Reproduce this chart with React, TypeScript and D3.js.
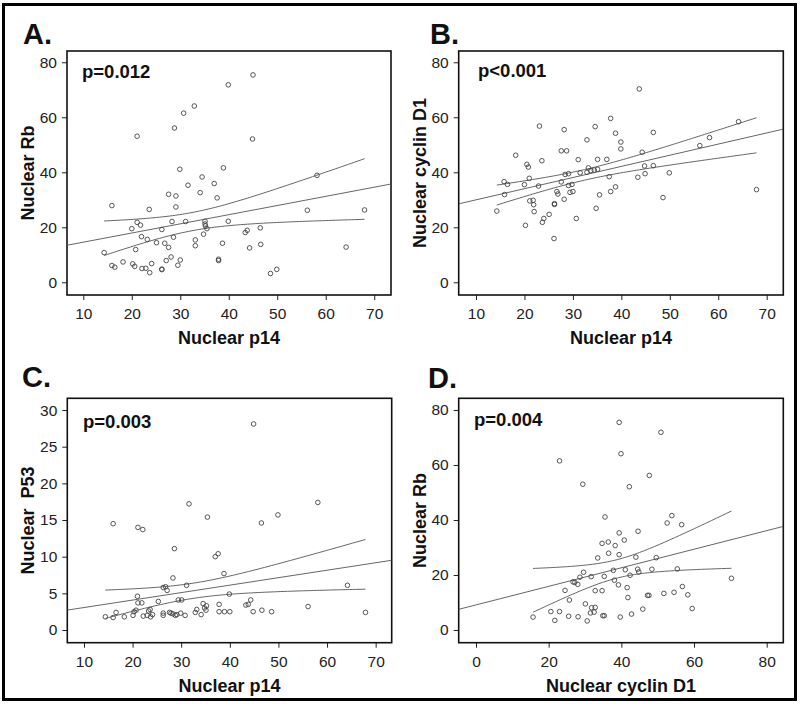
import React, { useEffect, useRef } from "react"
import * as d3 from "d3"

type Pt = [number, number]

// A: nuclear p14 vs nuclear Rb
const p14VsRb: Pt[] = [
  [14.3, 10.8], [15.9, 27.9], [15.9, 6.1], [16.5, 5.5], [18.2, 7.4], [20.0, 19.5], [20.2, 6.7],
  [20.6, 5.8], [20.8, 11.9], [21.1, 21.8], [21.1, 53.1], [21.8, 20.8], [22.0, 16.6], [22.1, 5.0],
  [22.9, 5.1], [23.2, 15.6], [23.6, 26.5], [23.7, 3.5], [24.1, 6.8], [25.1, 14.4], [26.2, 19.2],
  [26.2, 4.8], [26.2, 4.6], [26.8, 14.2], [27.1, 7.9], [27.6, 32.0], [27.6, 12.7], [28.1, 9.2],
  [28.3, 22.1], [28.6, 16.4], [28.8, 56.1], [29.1, 31.4], [29.1, 27.4], [29.5, 6.2], [29.9, 41.1],
  [30.0, 8.1], [30.7, 61.5], [31.1, 22.1], [31.6, 35.3], [32.9, 64.1], [33.1, 15.4], [33.1, 13.3],
  [34.1, 32.6], [34.5, 38.3], [34.8, 17.5], [35.1, 22.2], [35.1, 21.2], [35.2, 20.5], [35.5, 19.5],
  [37.0, 35.9], [37.6, 30.7], [37.9, 8.4], [37.9, 7.9], [38.7, 14.2], [38.9, 41.6], [39.9, 71.8],
  [39.9, 22.2], [43.4, 18.1], [43.8, 18.9], [44.3, 12.5], [44.9, 52.1], [45.0, 75.4], [46.5, 19.8],
  [46.6, 13.8], [48.6, 3.2], [49.9, 4.7], [56.2, 26.2], [58.2, 38.9], [64.2, 12.8], [68.0, 26.3],
]

// B: nuclear p14 vs nuclear cyclin D1
const p14VsCyclin: Pt[] = [
  [14.3, 25.9], [15.8, 36.6], [15.9, 31.9], [16.5, 35.6], [18.2, 46.2], [20.0, 35.5], [20.2, 20.7],
  [20.5, 42.9], [20.8, 41.9], [21.0, 37.8], [21.1, 29.6], [21.8, 29.8], [21.9, 28.2], [22.0, 25.7],
  [22.9, 35.0], [23.1, 56.8], [23.6, 44.2], [23.7, 21.8], [24.0, 23.2], [25.1, 24.7], [26.1, 15.9],
  [26.2, 28.6], [26.2, 28.3], [26.7, 33.0], [26.9, 32.1], [27.6, 36.5], [27.6, 47.8], [28.2, 30.2],
  [28.2, 55.5], [28.4, 39.2], [28.7, 47.8], [29.1, 39.5], [29.1, 35.2], [29.4, 32.7], [29.8, 35.6],
  [30.0, 33.0], [30.7, 23.2], [31.1, 44.6], [31.5, 39.8], [32.9, 51.8], [32.9, 40.0], [33.2, 41.6],
  [33.7, 40.6], [34.4, 40.8], [34.6, 56.6], [34.8, 26.9], [35.1, 44.7], [35.1, 41.1], [35.5, 31.8],
  [37.0, 44.7], [37.5, 38.4], [37.8, 59.6], [37.8, 33.0], [38.8, 54.2], [38.8, 34.7], [39.9, 51.0],
  [39.9, 48.5], [43.4, 38.2], [43.7, 70.3], [44.3, 47.3], [44.8, 42.3], [44.9, 39.5], [46.6, 54.5],
  [46.6, 42.4], [48.6, 30.8], [49.9, 39.8], [56.2, 49.7], [58.2, 52.6], [64.2, 58.4], [67.9, 33.7],
]

// C: nuclear p14 vs nuclear P53
const p14VsP53: Pt[] = [
  [14.4, 1.8], [16.0, 14.5], [16.0, 1.7], [16.6, 2.4], [18.3, 1.8], [20.1, 2.0], [20.3, 2.5],
  [20.7, 2.7], [21.0, 4.6], [21.1, 14.0], [21.1, 3.7], [21.9, 3.7], [22.1, 13.7], [22.2, 1.9],
  [23.0, 2.0], [23.3, 2.6], [23.6, 2.8], [23.7, 1.8], [24.1, 2.1], [25.3, 3.9], [26.3, 5.8],
  [26.3, 2.3], [26.3, 2.0], [26.8, 5.9], [27.1, 5.4], [27.6, 2.4], [27.9, 2.3], [28.3, 7.1],
  [28.3, 2.2], [28.6, 11.1], [28.8, 2.0], [29.1, 2.1], [29.4, 4.1], [29.9, 2.3], [30.1, 4.1],
  [30.8, 2.0], [31.1, 6.1], [31.6, 17.2], [32.9, 2.4], [33.2, 2.8], [34.1, 2.1], [34.5, 3.6],
  [34.8, 3.0], [35.1, 2.7], [35.2, 3.3], [35.4, 15.4], [37.0, 10.0], [37.6, 10.4], [37.8, 3.5],
  [37.8, 2.5], [38.8, 7.7], [38.9, 2.5], [39.9, 4.9], [40.0, 2.5], [43.3, 3.4], [43.8, 3.5],
  [44.3, 4.1], [44.8, 2.5], [44.9, 28.1], [46.5, 14.6], [46.6, 2.7], [48.6, 2.5], [49.9, 15.7],
  [56.1, 3.2], [58.1, 17.4], [64.2, 6.1], [67.9, 2.4],
]

// D: nuclear cyclin D1 vs nuclear Rb
const cyclinVsRb: Pt[] = [
  [15.7, 4.7], [20.6, 6.7], [21.7, 3.5], [23.0, 61.5], [23.0, 6.7], [24.5, 14.4], [25.5, 5.0],
  [25.7, 10.9], [26.7, 17.5], [27.2, 17.3], [28.0, 16.6], [28.1, 4.8], [28.6, 19.2], [29.4, 53.0],
  [29.6, 21.0], [30.1, 9.5], [30.6, 3.3], [31.5, 6.2], [31.7, 19.4], [31.8, 8.1], [32.5, 6.5],
  [32.8, 14.3], [32.8, 8.2], [33.5, 26.2], [34.7, 14.3], [34.7, 31.5], [34.9, 5.2], [35.3, 5.2],
  [35.3, 19.5], [35.5, 41.1], [36.4, 32.0], [36.5, 27.9], [37.8, 21.7], [38.1, 18.1], [38.3, 30.7],
  [39.2, 16.4], [39.4, 75.5], [39.4, 35.3], [39.4, 27.4], [39.7, 4.7], [39.9, 64.1], [40.8, 32.7],
  [41.1, 21.9], [41.6, 15.4], [41.8, 11.8], [42.2, 52.1], [42.4, 19.9], [42.8, 5.8], [44.0, 26.5],
  [44.5, 22.1], [44.6, 35.9], [44.8, 21.1], [45.9, 7.6], [47.2, 12.6], [47.6, 12.6], [47.7, 56.2],
  [48.4, 22.1], [49.6, 26.3], [50.9, 71.9], [51.7, 13.3], [52.6, 38.9], [53.9, 41.6], [54.5, 13.7],
  [55.4, 22.2], [56.6, 38.3], [56.8, 15.8], [58.3, 12.8], [59.5, 7.8], [70.3, 18.8],
]

const p14Ticks = [10, 20, 30, 40, 50, 60, 70]
const cyclinXTicks = [0, 20, 40, 60, 80]
const rbTicks = [0, 20, 40, 60, 80]
const cyclinTicks = [0, 20, 40, 60, 80]
const p53Ticks = [0, 5, 10, 15, 20, 25, 30]

const tags = ["A.", "B.", "C.", "D."]
const pValues = ["p=0.012", "p<0.001", "p=0.003", "p=0.004"]
const xTitles = ["Nuclear p14", "Nuclear p14", "Nuclear p14", "Nuclear cyclin D1"]
const yTitles = ["Nuclear Rb", "Nuclear cyclin D1", "Nuclear  P53", "Nuclear Rb"]

const panels = [
  { data: p14VsRb, xTicks: p14Ticks, yTicks: rbTicks, xDom: [6.64, 73.46], yDom: [-4.62, 84.1],
    box: [67, 51, 391, 295], tagX: 23, tagY: 44, pX: 82, pY: 78 },
  { data: p14VsCyclin, xTicks: p14Ticks, yTicks: cyclinTicks, xDom: [6.43, 73.43], yDom: [-4.62, 84.1],
    box: [458.7, 51, 783.3, 295], tagX: 430, tagY: 44, pX: 478, pY: 77 },
  { data: p14VsP53, xTicks: p14Ticks, yTicks: p53Ticks, xDom: [6.57, 73.3], yDom: [-1.73, 31.6],
    box: [67.3, 398.3, 391.7, 642.7], tagX: 22, tagY: 387, pX: 83, pY: 428 },
  { data: cyclinVsRb, xTicks: cyclinXTicks, yTicks: rbTicks, xDom: [-4.76, 84.57], yDom: [-4.62, 84.25],
    box: [458.7, 398.3, 783.3, 642.7], tagX: 428, tagY: 388, pX: 474, pY: 426 },
]

// least squares fit with 90% band for the mean
function fit(data: Pt[]) {
  const n = data.length
  const mx = d3.mean(data, (d) => d[0])!
  const my = d3.mean(data, (d) => d[1])!
  const sxx = d3.sum(data, (d) => (d[0] - mx) ** 2)
  const sxy = d3.sum(data, (d) => (d[0] - mx) * (d[1] - my))
  const b = sxy / sxx
  const a = my - b * mx
  const s = Math.sqrt(d3.sum(data, (d) => (d[1] - a - b * d[0]) ** 2) / (n - 2))
  const t = 1.668
  const half = (x: number) => t * s * Math.sqrt(1 / n + (x - mx) ** 2 / sxx)
  return { a, b, half }
}

const font = "'Liberation Sans', Arial, Helvetica, sans-serif"

const App = () => {
  const ref = useRef<SVGSVGElement>(null)

  useEffect(() => {
    const svg = d3.select(ref.current)
    svg.selectAll("*").remove()

    svg.append("rect")
      .attr("width", 800).attr("height", 706).attr("fill", "#fff")

    svg.append("rect")
      .attr("x", 3.5).attr("y", 4.5).attr("width", 792).attr("height", 695)
      .attr("fill", "none").attr("stroke", "#000").attr("stroke-width", 3)

    panels.forEach((p, i) => {
      const [l, t, r, b] = p.box
      const x = d3.scaleLinear().domain(p.xDom).range([l, r])
      const y = d3.scaleLinear().domain(p.yDom).range([b, t])
      const g = svg.append("g")

      const clipId = `clip${i}`
      g.append("clipPath").attr("id", clipId)
        .append("rect").attr("x", l).attr("y", t).attr("width", r - l).attr("height", b - t)

      // axes
      const xa = g.append("g").attr("transform", `translate(0,${b})`)
        .call(d3.axisBottom(x).tickValues(p.xTicks).tickSize(5).tickPadding(8).tickSizeOuter(0))
      const ya = g.append("g").attr("transform", `translate(${l},0)`)
        .call(d3.axisLeft(y).tickValues(p.yTicks).tickSize(5).tickPadding(5).tickSizeOuter(0))
      ;[xa, ya].forEach((ax) => {
        ax.select(".domain").remove()
        ax.selectAll("line").attr("stroke", "#222")
        ax.selectAll("text").attr("fill", "#222").style("font-size", "15.5px").style("font-family", font)
      })

      // frame
      g.append("rect")
        .attr("x", l).attr("y", t).attr("width", r - l).attr("height", b - t)
        .attr("fill", "none").attr("stroke", "#111").attr("stroke-width", 1.6)

      // fit lines
      const f = fit(p.data)
      const [x0, x1] = d3.extent(p.data, (d) => d[0]) as [number, number]
      const xs = d3.range(x0, x1, (x1 - x0) / 80).concat([x1])
      const line = d3.line<number[]>().x((d) => x(d[0])).y((d) => y(d[1]))
      const lines = g.append("g").attr("clip-path", `url(#${clipId})`)
        .attr("fill", "none").attr("stroke", "#555").attr("stroke-width", 0.9)
      lines.append("path").attr("d", line(p.xDom.map((v) => [v, f.a + f.b * v])))
      lines.append("path").attr("d", line(xs.map((v) => [v, f.a + f.b * v + f.half(v)])))
      lines.append("path").attr("d", line(xs.map((v) => [v, f.a + f.b * v - f.half(v)])))

      // points
      g.append("g")
        .selectAll("circle")
        .data(p.data)
        .join("circle")
        .attr("cx", (d) => x(d[0]))
        .attr("cy", (d) => y(d[1]))
        .attr("r", 2.3)
        .attr("fill", "none")
        .attr("stroke", "#444")
        .attr("stroke-width", 0.9)

      // texts
      g.append("text").attr("x", p.tagX).attr("y", p.tagY).text(tags[i])
        .style("font-family", font).style("font-weight", "bold").style("font-size", "29px").attr("fill", "#111")
      g.append("text").attr("x", p.pX).attr("y", p.pY).text(pValues[i])
        .style("font-family", font).style("font-weight", "bold").style("font-size", "18.5px").attr("fill", "#111")
      g.append("text").attr("x", (l + r) / 2).attr("y", b + 49).attr("text-anchor", "middle").text(xTitles[i])
        .style("font-family", font).style("font-weight", "bold").style("font-size", "18px").attr("fill", "#111")
      g.append("text")
        .attr("transform", `translate(${l - 33},${(t + b) / 2}) rotate(-90)`)
        .attr("text-anchor", "middle").text(yTitles[i])
        .style("white-space", "pre")
        .style("font-family", font).style("font-weight", "bold").style("font-size", "18px").attr("fill", "#111")
    })
  }, [])

  return (
    <svg ref={ref} width={800} height={706}
      style={{ position: "absolute", left: 0, top: 0, display: "block" }} />
  )
}

export default App
